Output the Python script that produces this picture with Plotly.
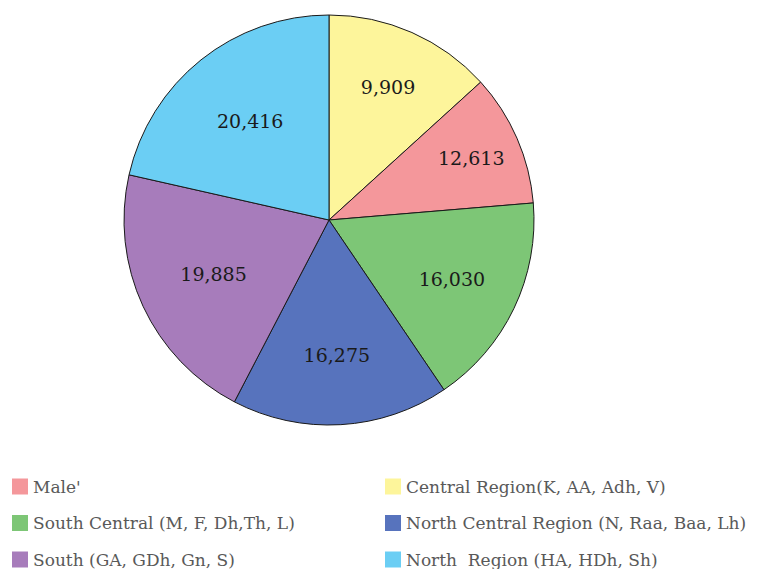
import plotly.graph_objects as go

# slices clockwise from 12 o'clock
regions = ["Central Region(K, AA, Adh, V)", "Male'", "South Central (M, F, Dh,Th, L)",
           "North Central Region (N, Raa, Baa, Lh)", "South (GA, GDh, Gn, S)",
           "North  Region (HA, HDh, Sh)"]
slice_values = [12613, 9909, 16030, 16275, 19885, 20416]
slice_labels = ["9,909", "12,613", "16,030", "16,275", "19,885", "20,416"]
colors = ["#FDF59B", "#F4979B", "#7DC676", "#5773BD", "#A77CBB", "#6BCEF4"]

# legend grid, row by row
legend_order = ["Male'", "Central Region(K, AA, Adh, V)", "South Central (M, F, Dh,Th, L)",
                "North Central Region (N, Raa, Baa, Lh)", "South (GA, GDh, Gn, S)",
                "North  Region (HA, HDh, Sh)"]

W, H = 760, 569
OFF = 8  # page body margin

def px_x(x):
    return (x - OFF) / W

def px_y(y):
    return 1 - (y - OFF) / H

fig = go.Figure(go.Pie(
    labels=regions, values=slice_values, text=slice_labels,
    textinfo="text", textposition="inside", insidetextorientation="horizontal",
    sort=False, direction="clockwise", rotation=0,
    marker=dict(colors=colors, line=dict(color="#1a1a1a", width=1)),
    textfont=dict(family="DejaVu Serif", size=19, color="#1a1a1a"),
    domain=dict(x=[px_x(124), px_x(534)], y=[px_y(425), px_y(15)]),
    showlegend=False, hoverinfo="label+value",
))

col_x = [12, 385]
row_y = [486.5, 523, 559.5]
shapes, annotations = [], []
for i, name in enumerate(legend_order):
    c = colors[regions.index(name)]
    x0 = col_x[i % 2]
    yc = row_y[i // 2]
    shapes.append(dict(type="rect", xref="paper", yref="paper",
                       x0=px_x(x0), x1=px_x(x0 + 16), y0=px_y(yc + 8), y1=px_y(yc - 8),
                       fillcolor=c, line=dict(width=0)))
    annotations.append(dict(text=name, xref="paper", yref="paper", x=px_x(x0 + 19), y=px_y(yc),
                            xanchor="left", yanchor="middle", showarrow=False,
                            font=dict(family="DejaVu Serif", size=17, color="#595959")))

fig.update_layout(width=W, height=H, margin=dict(l=0, r=0, t=0, b=0),
                  paper_bgcolor="white", plot_bgcolor="white",
                  shapes=shapes, annotations=annotations)
fig.write_html("out.html")
